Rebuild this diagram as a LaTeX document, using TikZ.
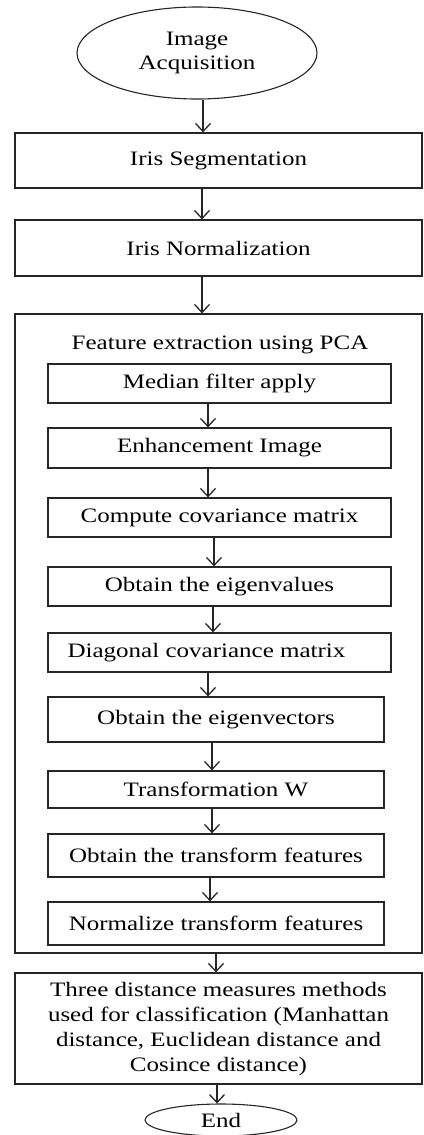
\documentclass[tikz,border=0pt]{standalone}
\usepackage{fontspec}
\usepackage{graphicx}
\setmainfont{Liberation Serif}
\usetikzlibrary{shapes.geometric,arrows.meta}
\newcommand{\wtxt}[1]{\scalebox{1.22}[1]{#1}}
\tikzset{
  box/.style={draw=black!85, line width=1.3pt, rectangle, inner sep=0pt, font=\fontsize{20.5}{25}\selectfont},
  oval/.style={draw=black!85, line width=1.1pt, ellipse, inner sep=0pt, font=\fontsize{20.5}{24}\selectfont},
  ttl/.style={inner sep=0pt, font=\fontsize{20.5}{25}\selectfont},
  arr/.style={draw=black!85, line width=1.3pt, -{Straight Barb[length=8pt,width=15pt,line width=1.3pt]}}
}
\begin{document}
\begin{tikzpicture}[x=1pt,y=-1pt]
\useasboundingbox (0,0) rectangle (423,1135);
\fill[white] (0,0) rectangle (423,1135);
\node[oval, minimum width=240pt, minimum height=92pt] (start) at (197,53) {\wtxt{\begin{tabular}{@{}c@{}}Image\\Acquisition\end{tabular}}};
\node[box, minimum width=407pt, minimum height=55pt] (seg) at (218.5,160.5) {\wtxt{Iris Segmentation}};
\node[box, minimum width=407pt, minimum height=56pt] (norm) at (218.5,248) {\wtxt{Iris Normalization}};
\node[box, minimum width=407pt, minimum height=639pt] (pca) at (218.5,633.5) {};
\node[ttl, anchor=base] (title) at (220,349) {\wtxt{Feature extraction using PCA}};
\node[box, minimum width=343pt, minimum height=39pt] (median) at (219.5,383.5) {\wtxt{Median filter apply}};
\node[box, minimum width=343pt, minimum height=40pt] (enh) at (219.5,448) {\wtxt{Enhancement Image}};
\node[box, minimum width=343pt, minimum height=39pt] (cov) at (219.5,517.5) {\wtxt{Compute covariance matrix}};
\node[box, minimum width=343pt, minimum height=39pt] (eval) at (219.5,586.5) {\wtxt{Obtain the eigenvalues}};
\node[box, minimum width=343pt, minimum height=39pt] (diag) at (219.5,652.5) {\wtxt{Diagonal covariance matrix}\hspace*{26pt}};
\node[box, minimum width=336pt, minimum height=45pt] (evec) at (216,719.5) {\wtxt{Obtain the eigenvectors}};
\node[box, minimum width=336pt, minimum height=37pt] (trw) at (216,789.5) {\wtxt{Transformation W}};
\node[box, minimum width=336pt, minimum height=43pt] (otf) at (216,855.5) {\wtxt{Obtain the transform features}};
\node[box, minimum width=336pt, minimum height=43pt] (ntf) at (216,923.5) {\wtxt{Normalize transform features}};
\node[box, minimum width=407pt, minimum height=111pt] (three) at (218.5,1028.5) {\wtxt{\begin{tabular}{@{}c@{}}Three distance measures methods\\used for classification (Manhattan\\distance, Euclidean distance and\\Cosince distance)\end{tabular}}};
\node[oval, minimum width=152pt, minimum height=32pt] (end) at (221,1120) {\wtxt{End}};
\draw[arr] ([xshift=6pt]start.south) -- ([xshift=6pt]start.south |- seg.north);
\draw[arr] ([xshift=-16.5pt]seg.south) -- ([xshift=-16.5pt]seg.south |- norm.north);
\draw[arr] ([xshift=-16.5pt]norm.south) -- ([xshift=-16.5pt]norm.south |- pca.north);
\draw[arr] ([xshift=-11.5pt]median.south) -- ([xshift=-11.5pt]median.south |- enh.north);
\draw[arr] ([xshift=-11.5pt]enh.south) -- ([xshift=-11.5pt]enh.south |- cov.north);
\draw[arr] ([xshift=-5.5pt]cov.south) -- ([xshift=-5.5pt]cov.south |- eval.north);
\draw[arr] ([xshift=-6.5pt]eval.south) -- ([xshift=-6.5pt]eval.south |- diag.north);
\draw[arr] ([xshift=-11.5pt]diag.south) -- ([xshift=-11.5pt]diag.south |- evec.north);
\draw[arr] ([xshift=-4pt]evec.south) -- ([xshift=-4pt]evec.south |- trw.north);
\draw[arr] ([xshift=-4pt]trw.south) -- ([xshift=-4pt]trw.south |- otf.north);
\draw[arr] ([xshift=-6pt]otf.south) -- ([xshift=-6pt]otf.south |- ntf.north);
\draw[arr] ([xshift=-2.5pt]pca.south) -- ([xshift=-2.5pt]pca.south |- three.north);
\draw[arr] ([xshift=-1.5pt]three.south) -- ([xshift=-1.5pt]three.south |- end.north);
\end{tikzpicture}
\end{document}
